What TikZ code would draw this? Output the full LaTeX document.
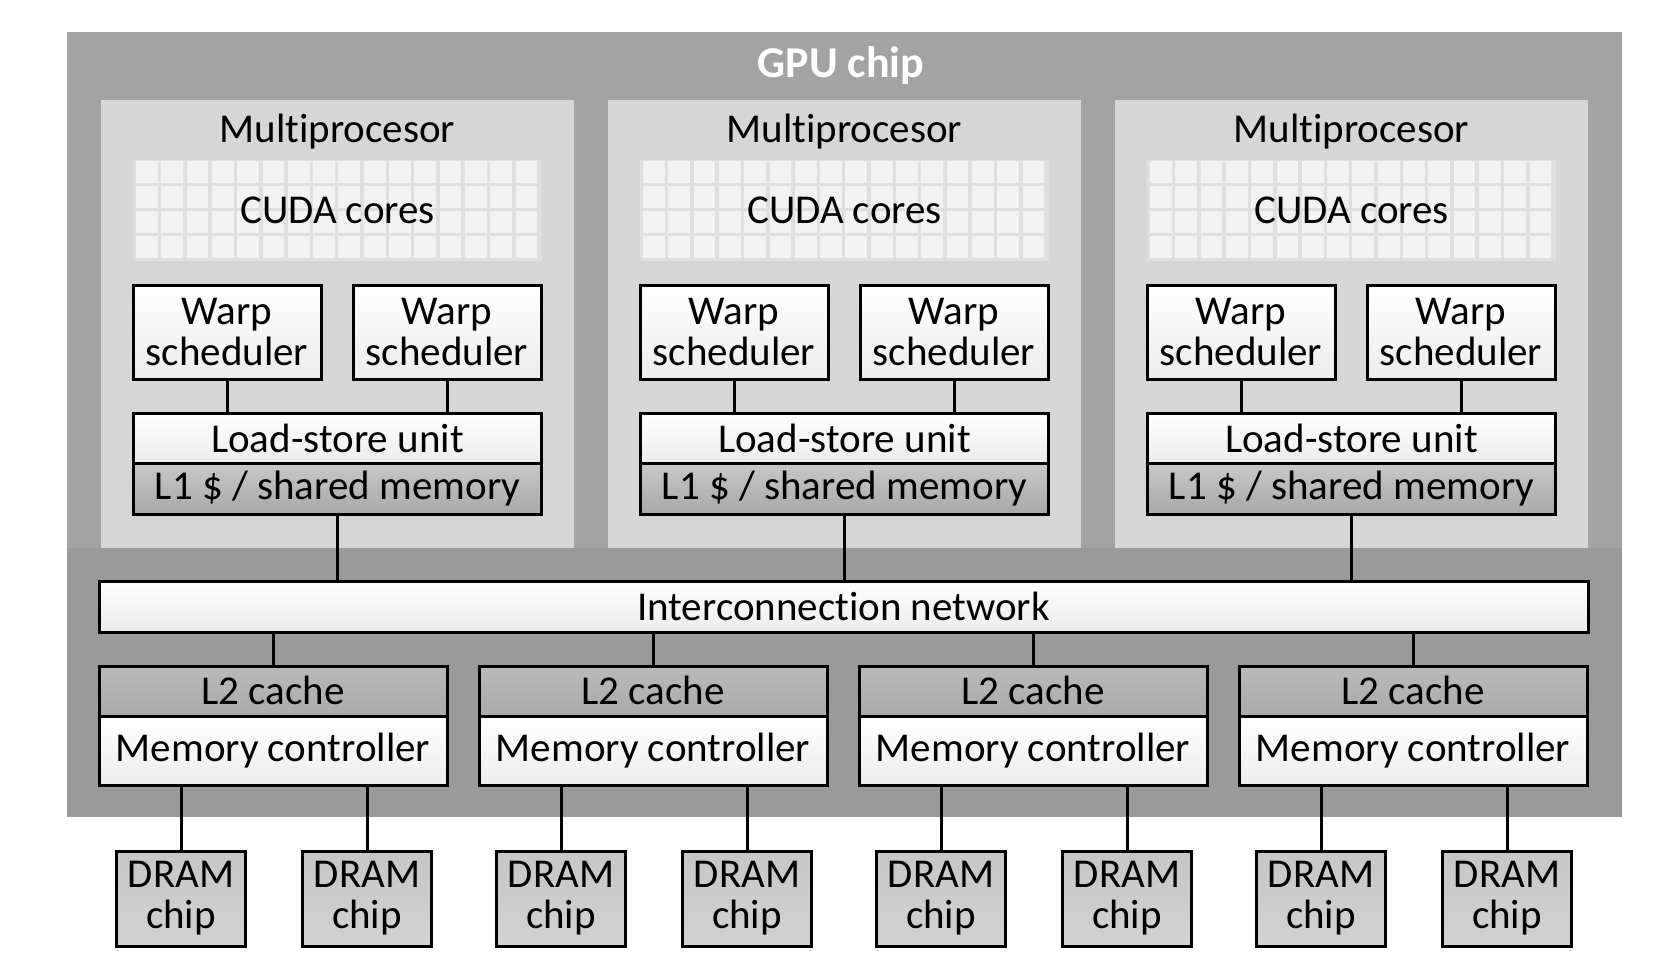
\documentclass[tikz,border=0pt]{standalone}
\usepackage{fontspec}
\setmainfont[RawFeature={-liga;-clig;-dlig}]{Carlito}
\usetikzlibrary{calc}
\definecolor{chipA}{HTML}{A3A3A3}
\definecolor{chipB}{HTML}{9A9A9A}
\definecolor{panelC}{HTML}{D6D6D6}
\definecolor{gridC}{HTML}{DFDFDF}
\definecolor{cellC}{HTML}{F2F2F2}
\definecolor{lightB}{HTML}{ECECEC}
\definecolor{lOneT}{HTML}{C8C8C8}
\definecolor{lOneB}{HTML}{A8A8A8}
\definecolor{lTwoT}{HTML}{BABABA}
\definecolor{lTwoB}{HTML}{AAAAAA}
\definecolor{dramT}{HTML}{C6C6C6}
\definecolor{dramB}{HTML}{D2D2D2}
\newcommand\myfont{\fontsize{20.5}{20.5}\selectfont}
\begin{document}
\begin{tikzpicture}[x=0.5pt,y=-0.5pt,
  box/.style={draw=black, line width=1.5pt, inner sep=0pt, align=center, font=\myfont},
  lightbox/.style={box, top color=white, bottom color=lightB},
  lonebox/.style={box, top color=lOneT, bottom color=lOneB},
  ltwobox/.style={box, top color=lTwoT, bottom color=lTwoB},
  drambox/.style={box, top color=dramT, bottom color=dramB, minimum width=64.5pt, minimum height=47.5pt},
  wsbox/.style={lightbox, minimum width=94pt, minimum height=47pt},
  panelbox/.style={fill=panelC, inner sep=0pt, minimum width=236.5pt, minimum height=224pt},
  label/.style={font=\myfont, inner sep=0pt, anchor=base},
  conn/.style={draw=black, line width=1.5pt}
]
\useasboundingbox (0,0) rectangle (1664,960);
\fill[white] (0,0) rectangle (1664,960);
% GPU chip background
\fill[chipA] (67,32) rectangle (1622,548);
\fill[chipB] (67,548) rectangle (1622,817);
\node[font=\fontsize{22}{24}\selectfont\bfseries, text=white, inner sep=0pt, anchor=base] (title) at (841,77) {GPU chip};

% Multiprocessors
\foreach \k in {0,1,2} {
  \pgfmathsetmacro\cx{337.5+507*\k}
  \node[panelbox] (mp-\k) at (\cx,324) {};
  \node[label] (mplabel-\k) at (\cx,142) {Multiprocesor};
  \fill[gridC] (\cx-204.5,160) rectangle (\cx+204.5,261);
  \foreach \i in {0,...,15} {
    \foreach \j in {0,...,3} {
      \fill[cellC] (\cx-201.5+25.3*\i,161+25*\j) rectangle ++(21.8,22);
    }
  }
  \node[label] (cuda-\k) at (\cx,223) {CUDA cores};
  \node[wsbox] (wsA-\k) at (\cx-110.5,332) {Warp\\scheduler};
  \node[wsbox] (wsB-\k) at (\cx+109.5,332) {Warp\\scheduler};
  \node[lonebox, minimum width=204pt, minimum height=25.5pt] (lone-\k) at (\cx,488.5) {L1 \$ / shared memory};
  \node[lightbox, minimum width=204pt, minimum height=25pt] (lsu-\k) at (\cx,438) {Load-store unit};
  \draw[conn] (wsA-\k.south) -- (wsA-\k.south |- lsu-\k.north);
  \draw[conn] (wsB-\k.south) -- (wsB-\k.south |- lsu-\k.north);
}

% Interconnection network
\node[lightbox, minimum width=744.5pt, minimum height=25.5pt] (ic) at (843.5,606.5) {Interconnection network};
\foreach \k in {0,1,2} {
  \draw[conn] (lone-\k.south) -- (lone-\k.south |- ic.north);
}

% L2 / memory controllers and DRAM
\foreach \k in {0,1,2,3} {
  \pgfmathsetmacro\cx{273+380*\k}
  \node[lightbox, minimum width=174pt, minimum height=34.5pt] (mc-\k) at (\cx,750.5) {Memory controller};
  \node[ltwobox, minimum width=174pt, minimum height=25pt] (ltwo-\k) at (\cx,691) {\raisebox{1pt}{L2 cache}};
  \draw[conn] (ltwo-\k.north |- ic.south) -- (ltwo-\k.north);
  \node[drambox] (dramA-\k) at (\cx-92,898.5) {DRAM\\chip};
  \node[drambox] (dramB-\k) at (\cx+94,898.5) {DRAM\\chip};
  \draw[conn] (dramA-\k.north |- mc-\k.south) -- (dramA-\k.north);
  \draw[conn] (dramB-\k.north |- mc-\k.south) -- (dramB-\k.north);
}
\end{tikzpicture}
\end{document}
